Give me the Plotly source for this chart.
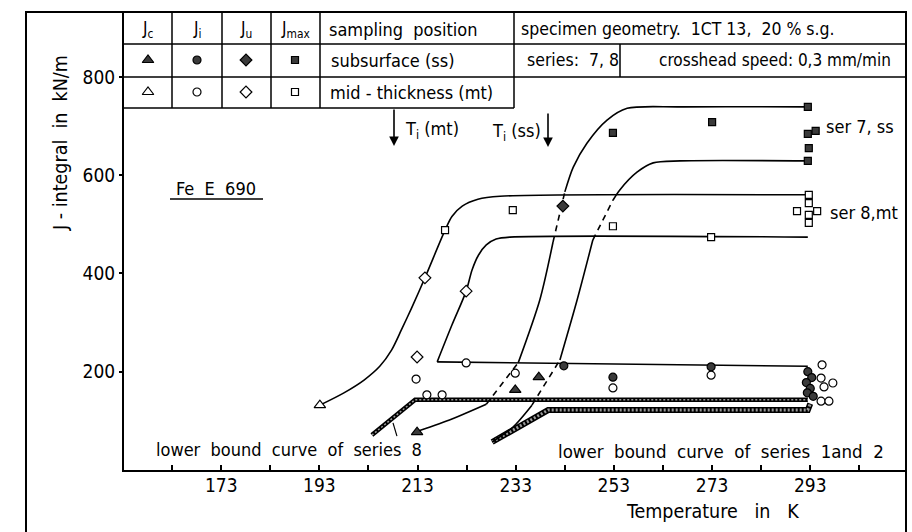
import plotly.graph_objects as go

FONT = "DejaVu Sans Condensed, Liberation Sans Narrow, Arial Narrow, Liberation Sans, sans-serif"

# ---------------- data (T in K, J-integral in kN/m) ----------------
# J_c  (triangles)
jc_ss_T = [212.9, 232.9, 237.7]
jc_ss_J = [77, 163, 189]
jc_mt_T = [193.1]
jc_mt_J = [132]
# J_i  (circles)
ji_ss_T = [242.8, 252.8, 272.8, 292.5, 293.3, 292.2, 293.0, 292.4, 293.6]
ji_ss_J = [212, 189, 210, 200, 188, 178, 166, 157, 150]
ji_mt_T = [212.7, 214.9, 218.0, 222.9, 232.9, 252.8, 272.8,
           295.4, 295.2, 295.8, 297.6, 295.2, 296.8]
ji_mt_J = [185, 153, 153, 218, 197, 167, 193,
           214, 187, 169, 177, 140, 140]
# J_u  (diamonds)
ju_ss_T = [242.6]
ju_ss_J = [537]
ju_mt_T = [212.9, 214.5, 222.9]
ju_mt_J = [230, 391, 364]
# J_max (squares)
jm_ss_T = [252.8, 273.0, 292.5, 292.5, 294.1, 292.7, 292.5]
jm_ss_J = [686, 708, 739, 684, 690, 655, 629]
jm_mt_T = [218.6, 232.4, 252.8, 272.8, 292.7, 292.7, 292.7, 292.7, 290.3, 294.4]
jm_mt_J = [488, 529, 496, 474, 560, 543, 519, 503, 527, 527]

# transition curves
mt_upper_T = [193.1, 198.0, 202.1, 205.3, 207.7, 209.7, 211.8, 214.5, 218.6, 220.0, 222.1, 225.3, 229.8, 292.5]
mt_upper_J = [132, 157, 183, 211, 244, 285, 330, 391, 488, 516, 537, 551, 557, 560]
mt_base_T = [217.0, 292.5]
mt_base_J = [220, 211]
mt_lower_T = [217.0, 220.0, 222.9, 224.1, 225.4, 227.0, 229.0, 231.8, 292.5]
mt_lower_J = [220, 295, 364, 407, 437, 458, 470, 474, 474]

ss7_segments = [  # (T list, J list, dashed?)
    ([213.3, 220.0, 227.0], [80, 104, 134], False),
    ([227.0, 233.5], [134, 218], True),
    ([233.5, 237.9, 240.6], [218, 346, 464], False),
    ([240.6, 243.0], [464, 566], True),
    ([243.0, 244.7, 247.5, 251.6, 255.7, 266.5, 292.5], [566, 616, 665, 712, 736, 739, 739], False),
]
ss8_segments = [
    ([228.2, 232.4, 236.3], [57, 87, 132], False),
    ([236.3, 242.0], [132, 224], True),
    ([242.0, 245.5, 248.7], [224, 346, 468], False),
    ([248.7, 252.8], [468, 549], True),
    ([252.8, 254.2, 257.7, 261.0, 266.5, 292.5], [549, 570, 606, 625, 629, 629], False),
]
# lower bound curves
lb8_T = [203.7, 212.5, 292.5]
lb8_J = [71, 143, 143]
lb12_T = [228.2, 239.6, 292.5, 293.0]
lb12_J = [57, 122, 122, 135]

x_tickvals = [163, 173, 183, 193, 203, 213, 223, 233, 243, 253, 263, 273, 283, 293, 303]
x_ticktext = ["", "173", "", "193", "", "213", "", "233", "", "253", "", "273", "", "293", ""]
y_tickvals = [200, 400, 600, 800]
y_ticktext = ["200", "400", "600", "800"]

# ---------------- geometry ----------------
W, H = 912, 532
L, R, T, B = 124, 906, 13, 470
XR = [153.2, 312.5]
YR = [0, 930]


def px(x):
    return (x - L) / (R - L)


def py(y):
    return (B - y) / (B - T)


def dx(xp):  # pixel -> data (for legend key glyphs)
    return XR[0] + (xp - L) / (R - L) * (XR[1] - XR[0])


def dy(yp):
    return YR[0] + (B - yp) / (B - T) * (YR[1] - YR[0])


fig = go.Figure()
BLK = "black"
FILL = "#3a3a3a"


def line(xs, ys, dash=None, width=1.6, shape="spline", color=BLK, smoothing=0.8):
    fig.add_trace(go.Scatter(x=xs, y=ys, mode="lines",
                             line=dict(color=color, width=width, dash=dash, shape=shape, smoothing=smoothing),
                             hoverinfo="skip", showlegend=False))


# lower bound bands (hatched look)
for xs, ys, w in [(lb8_T, lb8_J, 4.5), (lb12_T, lb12_J, 6)]:
    line(xs, ys, width=w, shape="linear")
    line(xs, ys, width=w - 3, shape="linear", color="#9a9a9a", dash="2px,2px")

line(mt_upper_T, mt_upper_J)
line(mt_base_T, mt_base_J, shape="linear")
line(mt_lower_T, mt_lower_J)
for segs in (ss7_segments, ss8_segments):
    for xs, ys, dashed in segs:
        line(xs, ys, dash="6px,5px" if dashed else None)

# leader for series 8 label
line([208.0, 208.8], [96, 69], width=1.2, shape="linear")


def markers(xs, ys, symbol, filled, size=8):
    fig.add_trace(go.Scatter(
        x=xs, y=ys, mode="markers",
        marker=dict(symbol=symbol, size=size,
                    color=FILL if filled else "white",
                    line=dict(color=BLK, width=1.2)),
        hoverinfo="skip", showlegend=False, cliponaxis=False))


markers(jc_ss_T, jc_ss_J, "triangle-up", True, 10)
markers(jc_mt_T, jc_mt_J, "triangle-up", False, 10)
markers(ji_ss_T, ji_ss_J, "circle", True)
markers(ji_mt_T, ji_mt_J, "circle", False)
markers(ju_ss_T, ju_ss_J, "diamond", True, 9)
markers(ju_mt_T, ju_mt_J, "diamond", False, 9)
markers(jm_ss_T, jm_ss_J, "square", True, 7)
markers(jm_mt_T, jm_mt_J, "square", False, 7)

# legend key glyphs inside the table
col_centres = [148, 197, 246, 295]
syms = ["triangle-up", "circle", "diamond", "square"]
sizes = [10, 8, 9, 7]
for cx, s, sz in zip(col_centres, syms, sizes):
    markers([dx(cx)], [dy(60)], s, True, sz)
    markers([dx(cx)], [dy(92)], s, False, sz)

# ---------------- shapes: frame and table ----------------
shapes = []


def hl(x0, x1, y, w=1.5):
    shapes.append(dict(type="line", xref="paper", yref="paper", x0=px(x0), x1=px(x1), y0=py(y), y1=py(y),
                       line=dict(color=BLK, width=w)))


def vl(x, y0, y1, w=1.5):
    shapes.append(dict(type="line", xref="paper", yref="paper", x0=px(x), x1=px(x), y0=py(y0), y1=py(y1),
                       line=dict(color=BLK, width=w)))


# outer frame
shapes.append(dict(type="rect", xref="paper", yref="paper", x0=px(26), x1=px(906), y0=py(560), y1=py(12),
                   line=dict(color=BLK, width=2)))
hl(124, 906, 44)
hl(124, 906, 77)
hl(124, 514, 108)
for xv in [172, 222, 271, 320, 514]:
    vl(xv, 12, 108)
vl(620, 44, 77)
# underline Fe E 690
hl(170, 263, 199, 1.3)

ann = []


def text(s, x, y, size=21, anchor="left", angle=0):
    ann.append(dict(text=s, x=px(x), y=py(y), xref="paper", yref="paper", showarrow=False,
                    xanchor=anchor, yanchor="middle", textangle=angle,
                    font=dict(family=FONT, size=size, color=BLK)))


for s, cx in zip(["J<sub>c</sub>", "J<sub>i</sub>", "J<sub>u</sub>", "J<sub>max</sub>"], col_centres):
    text(s, cx, 29, 17, "center")
text("sampling\u00a0 position", 327, 29, 18)
text("subsurface\u00a0(ss)", 329, 60, 18)
text("mid - thickness (mt)", 328, 92, 18)
text("specimen geometry.\u00a0 1CT 13,\u00a0 20 % s.g.", 519, 29, 17.5)
text("series:\u00a0 7, 8", 525, 60, 17.5)
text("crosshead speed: 0,3 mm/min", 775, 60, 17, "center")
text("T<sub>i</sub> (mt)", 403, 130, 18)
text("T<sub>i</sub> (ss)", 543, 132, 18, "right")
text("Fe\u00a0 E\u00a0 690", 216, 188, 18, "center")
text("ser 7, ss", 824, 126, 18)
text("ser 8,mt", 828, 212, 18)
text("lower\u00a0 bound\u00a0 curve\u00a0 of\u00a0 series\u00a0 8", 154, 449, 18)
text("lower\u00a0 bound\u00a0 curve\u00a0 of\u00a0 series\u00a0 1and\u00a0 2", 886, 451, 18.5, "right")
text("Temperature\u00a0\u00a0 in\u00a0\u00a0 K", 712, 511, 19.5, "center")
text("J - integral\u00a0 in\u00a0 kN/m", 60, 143, 19.5, "center", -90)

# T_i arrows
for xa, yt, yh in [(394, 108, 146), (548, 112, 147)]:
    ann.append(dict(text="", x=px(xa), y=py(yh), xref="paper", yref="paper",
                    ax=0, ay=-(yh - yt), axref="pixel", ayref="pixel",
                    showarrow=True, arrowhead=2, arrowsize=1.2, arrowwidth=1.6, arrowcolor=BLK))

fig.update_layout(
    width=W, height=H,
    margin=dict(l=L, r=W - R, t=T, b=H - B, pad=0),
    paper_bgcolor="white", plot_bgcolor="white",
    shapes=shapes, annotations=ann, showlegend=False,
    font=dict(family=FONT, size=19, color=BLK),
    xaxis=dict(range=XR, showgrid=False, zeroline=False, showline=True, linecolor=BLK, linewidth=2,
               ticks="inside", ticklen=5, tickwidth=1.5, tickcolor=BLK, ticklabelstandoff=-3,
               tickvals=x_tickvals, ticktext=x_ticktext, tickfont=dict(family=FONT, size=19)),
    yaxis=dict(range=YR, showgrid=False, zeroline=False, showline=True, linecolor=BLK, linewidth=2,
               ticks="outside", ticklen=3, tickwidth=1.5, tickcolor=BLK,
               tickvals=y_tickvals, ticktext=y_ticktext, tickfont=dict(family=FONT, size=19)),
)

fig.write_html("out.html")
